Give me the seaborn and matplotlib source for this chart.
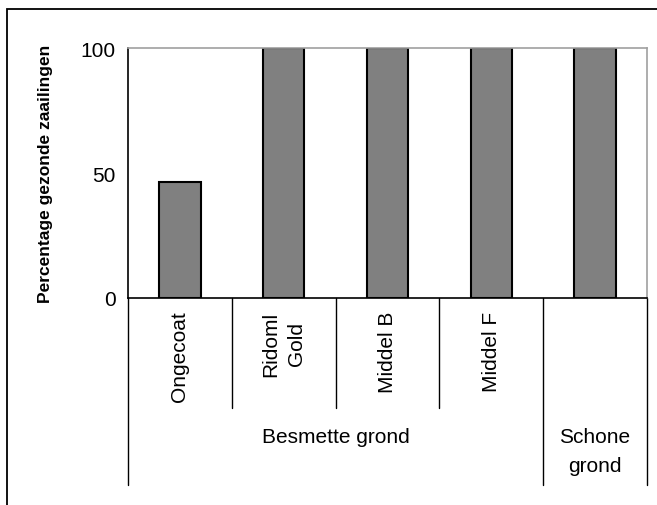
import matplotlib
matplotlib.use("Agg")
import matplotlib.pyplot as plt
import pandas as pd
import seaborn as sns
from matplotlib.patches import Rectangle

# Data
categories = ["Ongecoat", "Ridoml\nGold", "Middel B", "Middel F", ""]
values = [46.5, 100, 100, 100, 100]
groups = ["Besmette grond", "Schone\ngrond"]
group_sizes = [4, 1]
yticks = [0, 50, 100]

sns.set_style("white")
plt.rcParams['font.family'] = ['Liberation Sans', 'DejaVu Sans']
plt.rcParams['text.color'] = 'black'
plt.rcParams['axes.labelcolor'] = 'black'
plt.rcParams['xtick.color'] = 'black'
plt.rcParams['ytick.color'] = 'black'

df = pd.DataFrame({'cat': categories, 'value': values})

fig = plt.figure(figsize=(6.57, 5.06), dpi=100)
ax = fig.add_axes([128 / 657, 1 - 299 / 506, (647 - 128) / 657, 250 / 506])

sns.barplot(data=df, x='cat', y='value', order=categories, ax=ax,
            color='#808080', saturation=1, width=0.4,
            edgecolor='black', linewidth=1.5)

ax.set_ylim(0, 100)
ax.set_xlim(-0.5, len(categories) - 0.5)
ax.set_yticks(yticks)
ax.tick_params(axis='y', length=5, width=1, color='black', labelcolor='black',
               labelsize=15, direction='out', pad=4)
ax.tick_params(axis='x', length=0, labelcolor='black', labelsize=15, pad=9)
for lab in ax.get_xticklabels():
    lab.set_rotation(90)
    lab.set_ha('center')
    lab.set_va('top')
    lab.set_multialignment('center')
    lab.set_linespacing(1.5)

ax.set_xlabel('')
ax.set_ylabel('Percentage gezonde zaailingen', fontsize=12.5, fontweight='bold',
              va='center', color='black')
ax.yaxis.set_label_coords((46 - 128) / 519, 0.5)

for side in ['left', 'bottom']:
    ax.spines[side].set_color('black')
    ax.spines[side].set_linewidth(1.2)
for side in ['top', 'right']:
    ax.spines[side].set_color('#a0a0a0')
    ax.spines[side].set_linewidth(1.2)

# category / group separators below the axis
tr = ax.get_xaxis_transform()
group_edges = [0]
for n in group_sizes:
    group_edges.append(group_edges[-1] + n)
for i in range(len(categories) + 1):
    bottom = -0.75 if i in group_edges else -0.44
    ax.plot([i - 0.5, i - 0.5], [0, bottom], transform=tr, color='black',
            linewidth=1, clip_on=False)

for name, start, n in zip(groups, group_edges[:-1], group_sizes):
    ax.text(start - 0.5 + n / 2, -0.515, name, transform=tr, ha='center', va='top',
            fontsize=15, linespacing=1.7, color='black')

# outer chart border (runs off the image on right and bottom)
top = 1 - 10 / 506
fig.patches.append(Rectangle((7 / 657, -0.2), 1.5, top + 0.2,
                             transform=fig.transFigure, fill=False,
                             edgecolor='black', linewidth=1.3))

fig.savefig('out.png', dpi=100)
